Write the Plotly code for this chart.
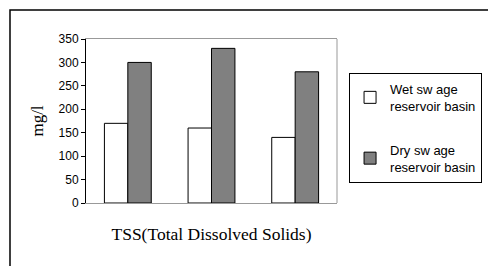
import plotly.graph_objects as go

categories = ["A", "B", "C"]
wet_values = [170, 160, 140]
dry_values = [300, 330, 280]
y_ticks = [0, 50, 100, 150, 200, 250, 300, 350]

fig = go.Figure()
fig.add_trace(go.Bar(x=categories, y=wet_values, name="Wet sw age<br>reservoir basin",
                     legendgroup="w",
                     marker=dict(color="white", line=dict(color="black", width=1))))
fig.add_trace(go.Bar(x=categories, y=dry_values, name="Dry sw age<br>reservoir basin",
                     legendgroup="d",
                     marker=dict(color="#808080", line=dict(color="black", width=1))))

fig.update_layout(
    width=488, height=266,
    margin=dict(l=86, r=151, t=39, b=63, autoexpand=False),
    paper_bgcolor="white", plot_bgcolor="white",
    barmode="group", bargap=0.44, bargroupgap=0,
    font=dict(family="Arial, Liberation Sans", size=12, color="black"),
    xaxis=dict(showticklabels=False, ticks="", showgrid=False, showline=True,
               linecolor="#999999", linewidth=1, mirror=True,
               title=dict(text="TSS(Total Dissolved Solids)",
                          font=dict(family="Times New Roman, Liberation Serif", size=17.5), standoff=24)),
    yaxis=dict(range=[0, 350], tickvals=y_ticks, showgrid=False, zeroline=False,
               showline=True, linecolor="black", linewidth=1, ticks="outside", ticklen=4,
               tickcolor="black",
               title=dict(text="mg/l", font=dict(family="Times New Roman, Liberation Serif", size=17), standoff=10)),
    legend=dict(x=1.048, y=0.793, xanchor="left", yanchor="top", bordercolor="black", borderwidth=1,
                font=dict(family="Arial, Liberation Sans", size=13), traceorder="grouped",
                tracegroupgap=24, itemwidth=30),
    showlegend=True,
)

fig.add_shape(type="line", xref="paper", yref="paper", x0=1, x1=1, y0=0, y1=1,
              line=dict(color="#999999", width=1))
fig.add_shape(type="rect", xref="paper", yref="paper", x0=-0.3028, x1=1.62, y0=-0.42, y1=1.1768,
              line=dict(color="black", width=1.5), fillcolor="rgba(0,0,0,0)")

fig.write_html("out.html", config={"displayModeBar": False},
               post_script="document.body.style.margin='0px';document.body.style.overflow='hidden';")
